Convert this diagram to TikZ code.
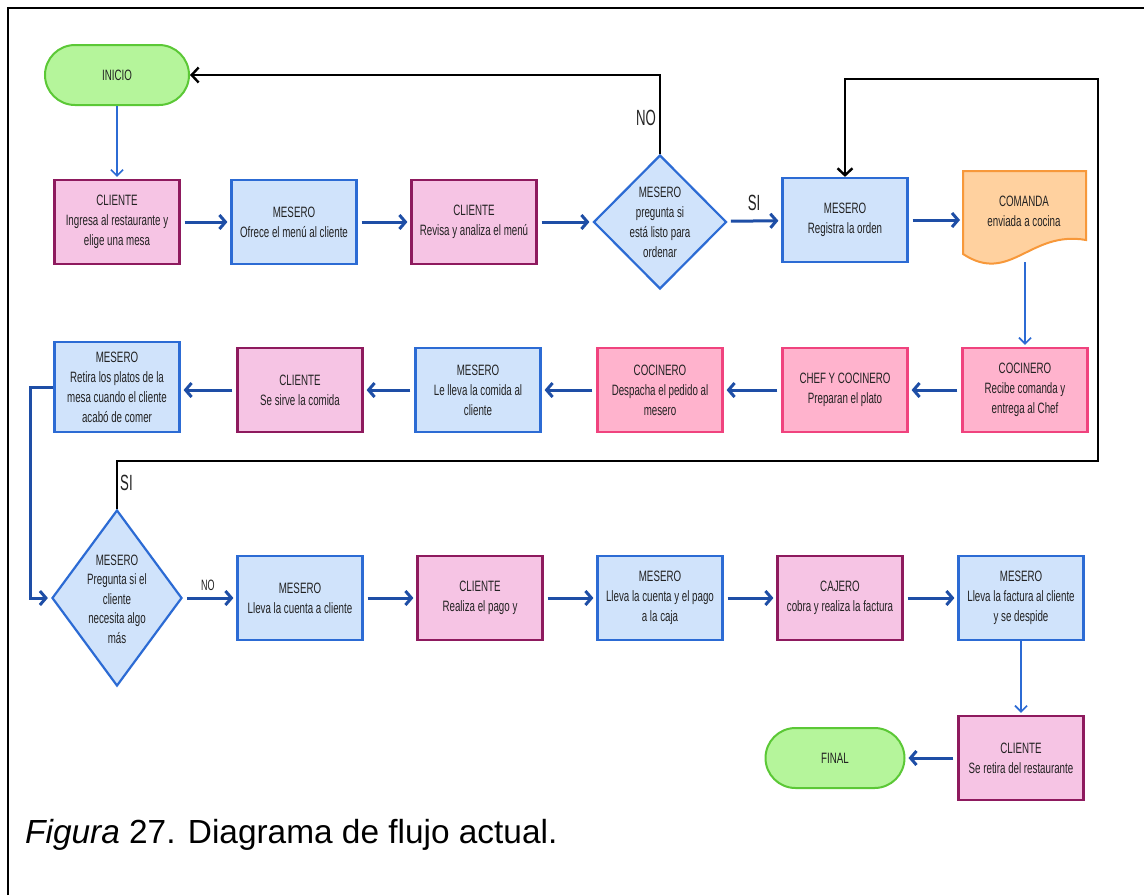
\documentclass[tikz,border=0pt]{standalone}
\usepackage{fontspec}
\setmainfont{Liberation Sans}
\newfontfamily\boxfont[FakeStretch=0.65]{Liberation Sans}
\newfontfamily\labfont[FakeStretch=0.6]{Liberation Sans}
\usetikzlibrary{arrows.meta,shapes.geometric}

\definecolor{clifill}{HTML}{F6C4E4}
\definecolor{clidraw}{HTML}{8E1A5E}
\definecolor{mesfill}{HTML}{D0E3FB}
\definecolor{mesdraw}{HTML}{2C6BD4}
\definecolor{cocfill}{HTML}{FFB3CD}
\definecolor{cocdraw}{HTML}{F0437E}
\definecolor{grnfill}{HTML}{B5F59B}
\definecolor{grndraw}{HTML}{5BC836}
\definecolor{orgfill}{HTML}{FFD19F}
\definecolor{orgdraw}{HTML}{F7983A}
\definecolor{flow}{HTML}{1E4EA6}
\definecolor{ink}{HTML}{222222}

\begin{document}
\begin{tikzpicture}[x=1pt,y=-1pt,
  every node/.style={font=\boxfont\fontsize{15}{20}\selectfont, align=center, text=ink},
  box/.style={draw, line width=2.2pt, minimum width=125pt, minimum height=84pt, inner sep=0pt},
  cliente/.style={box, fill=clifill, draw=clidraw},
  mesero/.style={box, fill=mesfill, draw=mesdraw},
  cocina/.style={box, fill=cocfill, draw=cocdraw},
  terminal/.style={draw=grndraw, fill=grnfill, line width=2pt, rounded corners=30pt,
    minimum width=144pt, minimum height=60pt, inner sep=0pt},
  decision/.style={diamond, draw=mesdraw, fill=mesfill, line width=2.2pt, inner sep=0pt},
  flowarrow/.style={draw=flow, line width=3pt, shorten <=4pt, shorten >=3pt,
    -{Straight Barb[length=6pt,width=14pt]}},
  thinarrow/.style={draw=mesdraw, line width=1.7pt, shorten >=2pt,
    -{Straight Barb[length=6pt,width=12pt]}},
  loopline/.style={draw=black, line width=2.4pt,
    -{Straight Barb[length=7pt,width=15pt]}},
  lbl/.style={font=\labfont\fontsize{22}{22}\selectfont, inner sep=0pt},
  smalllbl/.style={font=\labfont\fontsize{15}{15}\selectfont, inner sep=0pt}
]
\useasboundingbox (0,0) rectangle (1144,895);
\fill[white] (0,0) rectangle (1144,895);

% page frame
\draw[line width=2.5pt] (8,895) -- (8,8) -- (1144,8);

% ---- first row ----
\node[terminal] (inicio) at (117,75) {INICIO};
\node[cliente] (c1) at (117,222) {CLIENTE\\Ingresa al restaurante y\\elige una mesa};
\node[mesero] (m1) at (294,222) {MESERO\\Ofrece el menú al cliente};
\node[cliente] (c2) at (474,222) {CLIENTE\\Revisa y analiza el menú};
\node[decision, minimum width=133pt, minimum height=134pt] (d1) at (660,222) {};
\node (d1t) at (660,222) {MESERO\\pregunta si\\está listo para\\ordenar};
\node[mesero] (m2) at (845,220) {MESERO\\Registra la orden};

% order ticket (document shape)
\draw[draw=orgdraw, fill=orgfill, line width=2pt]
  (963,171) -- (1086,171) -- (1086,240)
  .. controls (1030,230) and (1010,285) .. (963,254) -- cycle;
\node (com) at (1024,211) {COMANDA\\enviada a cocina};
\coordinate (comw) at (963,220);
\coordinate (comb) at (1025,262);

% ---- second row ----
\node[cocina] (k1) at (1025,390) {COCINERO\\Recibe comanda y\\entrega al Chef};
\node[cocina] (chef) at (845,390) {CHEF Y COCINERO\\Preparan el plato};
\node[cocina] (k2) at (660,390) {COCINERO\\Despacha el pedido al\\mesero};
\node[mesero] (m4) at (478,390) {MESERO\\Le lleva la comida al\\cliente};
\node[cliente] (c3) at (300,390) {CLIENTE\\Se sirve la comida};
\node[mesero, minimum height=90pt] (m3) at (117,387) {MESERO\\Retira los platos de la\\mesa cuando el cliente\\acabó de comer};

% ---- third row ----
\node[decision, minimum width=130pt, minimum height=176pt] (d2) at (117,598) {};
\node[font=\boxfont\fontsize{15}{19.5}\selectfont] (d2t) at (117,599) {MESERO\\Pregunta si el\\cliente\\necesita algo\\más};
\node[mesero] (m5) at (300,598) {MESERO\\Lleva la cuenta a cliente};
\node[cliente] (c4) at (480,598) {CLIENTE\\Realiza el pago y};
\node[mesero] (m6) at (660,598) {MESERO\\Lleva la cuenta y el pago\\a la caja};
\node[cliente] (caj) at (840,598) {CAJERO\\cobra y realiza la factura};
\node[mesero] (m7) at (1021,598) {MESERO\\Lleva la factura al cliente\\y se despide};
\node[cliente] (c5) at (1021,758) {CLIENTE\\Se retira del restaurante};
\node[terminal, minimum width=139pt] (final) at (835,758) {FINAL};

% ---- connectors ----
\draw[thinarrow] (inicio) -- (c1);
\draw[flowarrow] (c1) -- (m1);
\draw[flowarrow] (m1) -- (c2);
\draw[flowarrow] (c2) -- (d1);
\draw[flowarrow] (d1) -- (m2) node[lbl, midway, above=9pt] (si1) {SI};
\draw[flowarrow] (m2.east) -- (comw);
\draw[thinarrow] (comb) -- (k1.north);
\draw[flowarrow] (k1) -- (chef);
\draw[flowarrow] (chef) -- (k2);
\draw[flowarrow] (k2) -- (m4);
\draw[flowarrow] (m4) -- (c3);
\draw[flowarrow] (c3) -- (c3 -| m3.east);
\coordinate (lc) at (30,490);
\draw[flowarrow, shorten <=0pt] (m3.west) -| (lc) |- (d2.west);
\draw[flowarrow] (d2) -- (m5) node[smalllbl, midway, above=6pt, xshift=-2pt] (no2) {NO};
\draw[flowarrow] (m5) -- (c4);
\draw[flowarrow] (c4) -- (m6);
\draw[flowarrow] (m6) -- (caj);
\draw[flowarrow] (caj) -- (m7);
\draw[thinarrow] (m7) -- (c5);
\draw[flowarrow] (c5) -- (final);

% return loops
\draw[loopline] (d1.north) |- (inicio.east);
\node[lbl, anchor=east] (no1) at (656,118) {NO};
\coordinate (loopR) at (1098,461);
\coordinate (loopT) at (1098,79);
\draw[loopline] (d2.north) |- (loopR) -- (loopT) -| (m2.north);
\node[lbl, anchor=west] (si2) at (120,483) {SI};

% caption
\node[font=\fontsize{33.4}{40}\selectfont, anchor=base west, inner sep=0pt, text=black] (cap)
  at (25,843) {\textit{Figura} 27. Diagrama de flujo actual.};
\end{tikzpicture}
\end{document}
